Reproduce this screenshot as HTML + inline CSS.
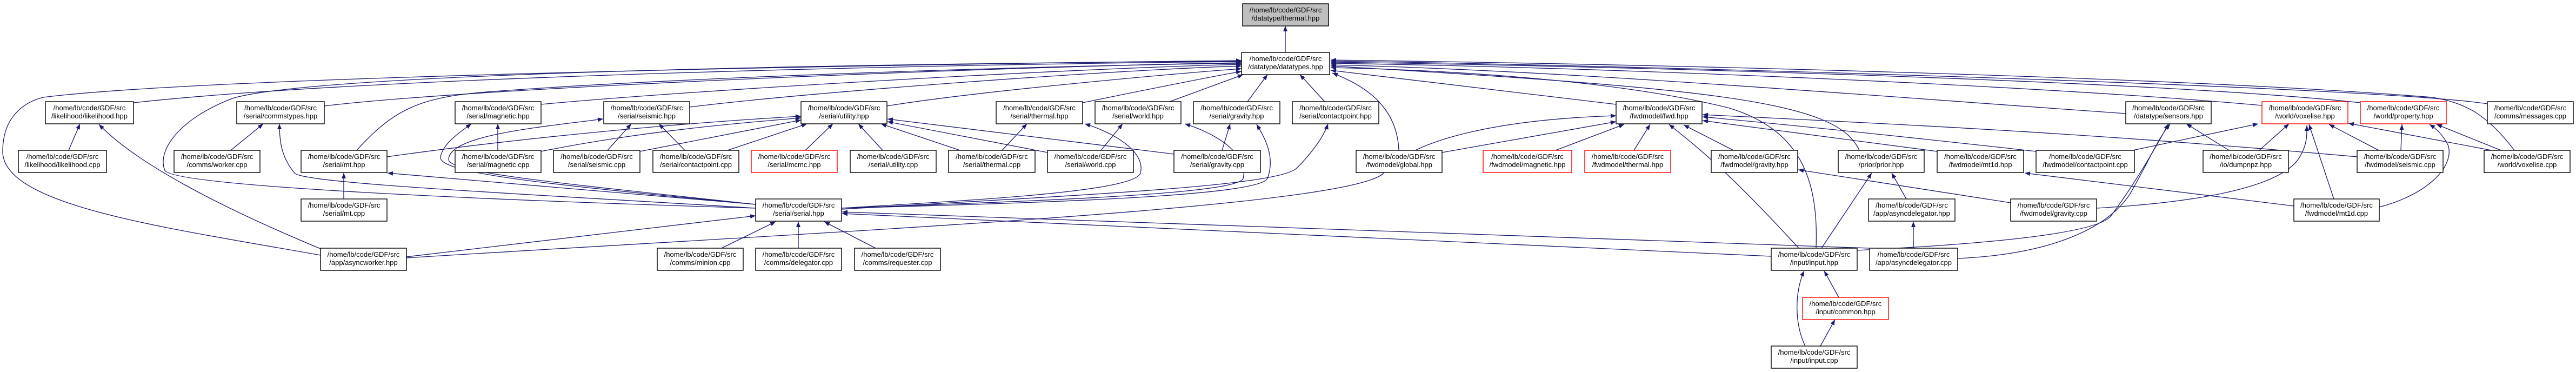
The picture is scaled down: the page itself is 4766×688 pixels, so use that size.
<!DOCTYPE html>
<html><head><meta charset="utf-8">
<style>
html,body{margin:0;padding:0;background:#fff;}
svg{display:block;}
text{font-family:"Liberation Sans",sans-serif;font-size:13px;fill:#000;}
.e{fill:none;stroke:#191970;stroke-width:1.3;marker-end:url(#a);}
.n{fill:#fff;stroke:#000;stroke-width:1.4;}
.r{fill:#fff;stroke:#ff0000;stroke-width:1.4;}
.g{fill:#bfbfbf;stroke:#000;stroke-width:1.4;}
</style></head>
<body>
<svg width="4766" height="688" viewBox="0 0 4766 688" xmlns="http://www.w3.org/2000/svg">
<defs>
<marker id="a" viewBox="0 0 10 8" refX="10" refY="4" markerWidth="11" markerHeight="8" markerUnits="userSpaceOnUse" orient="auto">
<path d="M0,0 L10,4 L0,8 z" fill="#191970"/>
</marker>
</defs>
<g>
<path class="e" d="M2378,97 L2378,48"/>
<path class="e" d="M247,190 C700,140 1800,118 2297,114"/>
<path class="e" d="M600,196 C900,160 1900,122 2297,116"/>
<path class="e" d="M1001,193 C1300,165 2000,126 2297,119"/>
<path class="e" d="M1276,198 C1500,170 2050,130 2297,122"/>
<path class="e" d="M1641,196 C1800,170 2150,138 2297,127"/>
<path class="e" d="M2003,190 C2100,170 2250,140 2297,132"/>
<path class="e" d="M2164,188 L2300,138"/>
<path class="e" d="M2308,188 L2345,138"/>
<path class="e" d="M2451,188 L2405,138"/>
<path class="e" d="M660,278 C730,200 780,180 900,170 C1300,140 2000,120 2297,117"/>
<path class="e" d="M593,472 C300,420 5,380 5,280 C5,220 40,190 80,180 C400,140 1700,118 2297,112"/>
<path class="e" d="M1398,385 C900,370 320,345 305,315 C290,280 330,220 430,182 C600,130 1800,116 2297,113"/>
<path class="e" d="M2588,278 C2585,200 2530,160 2465,135"/>
<path class="e" d="M2990,193 L2462,130"/>
<path class="e" d="M3440,278 C3400,190 3200,165 2462,122"/>
<path class="e" d="M3360,459 C3365,330 3330,240 3200,200 C3000,150 2700,130 2462,125"/>
<path class="e" d="M3933,210 C3500,180 2900,130 2462,120"/>
<path class="e" d="M4185,195 C3800,160 3000,125 2462,117"/>
<path class="e" d="M4367,190 C4000,150 3000,122 2462,115"/>
<path class="e" d="M4602,192 C4400,160 3000,120 2462,113"/>
<path class="e" d="M4652,278 C4600,210 4560,190 4500,180 C4000,140 3000,118 2462,111"/>
<path class="e" d="M127,278 L148,229"/>
<path class="e" d="M593,460 C400,380 250,300 183,230"/>
<path class="e" d="M427,278 L487,229"/>
<path class="e" d="M1398,385 C1000,360 560,340 545,320 C520,290 517,260 517,229"/>
<path class="e" d="M636,368 L636,320"/>
<path class="e" d="M1398,378 L717,320"/>
<path class="e" d="M752,475 L1398,399"/>
<path class="e" d="M752,477 C1500,430 2500,385 2560,320 C2620,250 2800,220 2990,214"/>
<path class="e" d="M1398,378 C1000,340 810,320 815,290 C820,265 850,245 872,229"/>
<path class="e" d="M1398,378 C1050,340 830,320 830,295 C830,250 1000,235 1116,220"/>
<path class="e" d="M921,278 L921,229"/>
<path class="e" d="M1124,278 L1168,229"/>
<path class="e" d="M1267,278 L1219,229"/>
<path class="e" d="M716,290 C1000,250 1300,225 1482,215"/>
<path class="e" d="M1001,280 C1200,240 1400,225 1482,218"/>
<path class="e" d="M1184,280 L1482,222"/>
<path class="e" d="M1346,278 L1493,229"/>
<path class="e" d="M1490,278 L1541,229"/>
<path class="e" d="M1633,278 L1588,229"/>
<path class="e" d="M1776,278 L1630,229"/>
<path class="e" d="M1938,282 L1642,225"/>
<path class="e" d="M2172,285 L1642,220"/>
<path class="e" d="M1854,278 L1900,229"/>
<path class="e" d="M2037,278 L2077,229"/>
<path class="e" d="M2261,278 L2276,229"/>
<path class="e" d="M1557,385 C1800,370 2100,355 2110,320 C2120,280 2060,245 2007,229"/>
<path class="e" d="M1557,385 C1900,372 2290,360 2300,330 C2310,290 2260,250 2192,229"/>
<path class="e" d="M1557,385 C1950,375 2330,362 2345,330 C2360,290 2340,255 2325,230"/>
<path class="e" d="M1557,387 C2000,360 2370,345 2400,310 C2430,280 2450,250 2457,229"/>
<path class="e" d="M1335,459 L1435,410"/>
<path class="e" d="M1477,459 L1477,410"/>
<path class="e" d="M1620,459 L1525,410"/>
<path class="e" d="M3277,474 L1558,395"/>
<path class="e" d="M3459,459 L1558,392"/>
<path class="e" d="M2668,282 L2990,225"/>
<path class="e" d="M2878,278 L3005,230"/>
<path class="e" d="M3023,278 L3053,230"/>
<path class="e" d="M3207,278 L3115,231"/>
<path class="e" d="M3328,459 C3200,320 3150,280 3088,230"/>
<path class="e" d="M3584,280 L3150,223"/>
<path class="e" d="M3767,280 C3500,250 3300,230 3150,216"/>
<path class="e" d="M4361,290 C3800,240 3400,225 3150,212"/>
<path class="e" d="M3370,459 L3463,320"/>
<path class="e" d="M3527,368 L3500,320"/>
<path class="e" d="M3720,375 L3327,314"/>
<path class="e" d="M3540,459 L3540,410"/>
<path class="e" d="M3622,478 C3800,470 3900,420 3940,360 C3975,300 3990,260 4015,229"/>
<path class="e" d="M3436,463 C3700,450 3880,430 3905,400 C3950,340 3990,270 4012,229"/>
<path class="e" d="M3340,640 C3320,600 3320,540 3338,501"/>
<path class="e" d="M3368,640 L3395,591"/>
<path class="e" d="M3402,550 L3375,501"/>
<path class="e" d="M4124,278 L4045,229"/>
<path class="e" d="M4180,278 L4235,229"/>
<path class="e" d="M3946,278 L4178,229"/>
<path class="e" d="M4401,278 L4309,230"/>
<path class="e" d="M4442,278 L4444,230"/>
<path class="e" d="M4620,280 L4345,228"/>
<path class="e" d="M4627,278 L4508,230"/>
<path class="e" d="M4318,368 L4272,230"/>
<path class="e" d="M4402,383 C4490,360 4540,310 4530,270 C4520,250 4510,240 4495,230"/>
<path class="e" d="M4244,381 L3746,320"/>
<path class="e" d="M3879,385 C4050,375 4220,350 4255,290 C4270,265 4268,245 4268,232"/>
</g>
<g text-anchor="middle">
<!-- row0 -->
<rect class="g" x="2299" y="7" width="159" height="41"/><text x="2378.5" y="23">/home/lb/code/GDF/src</text><text x="2378.5" y="38">/datatype/thermal.hpp</text>
<!-- row1 -->
<rect class="n" x="2297" y="97" width="163" height="41"/><text x="2378.5" y="113">/home/lb/code/GDF/src</text><text x="2378.5" y="128">/datatype/datatypes.hpp</text>
<!-- row2 -->
<rect class="n" x="84" y="188" width="163" height="41"/><text x="165.5" y="204">/home/lb/code/GDF/src</text><text x="165.5" y="219">/likelihood/likelihood.hpp</text>
<rect class="n" x="438" y="188" width="162" height="41"/><text x="519" y="204">/home/lb/code/GDF/src</text><text x="519" y="219">/serial/commstypes.hpp</text>
<rect class="n" x="842" y="188" width="159" height="41"/><text x="921.5" y="204">/home/lb/code/GDF/src</text><text x="921.5" y="219">/serial/magnetic.hpp</text>
<rect class="n" x="1117" y="188" width="159" height="41"/><text x="1196.5" y="204">/home/lb/code/GDF/src</text><text x="1196.5" y="219">/serial/seismic.hpp</text>
<rect class="n" x="1482" y="188" width="159" height="41"/><text x="1561.5" y="204">/home/lb/code/GDF/src</text><text x="1561.5" y="219">/serial/utility.hpp</text>
<rect class="n" x="1843" y="188" width="160" height="41"/><text x="1923" y="204">/home/lb/code/GDF/src</text><text x="1923" y="219">/serial/thermal.hpp</text>
<rect class="n" x="2026" y="188" width="159" height="41"/><text x="2105.5" y="204">/home/lb/code/GDF/src</text><text x="2105.5" y="219">/serial/world.hpp</text>
<rect class="n" x="2208" y="188" width="160" height="41"/><text x="2288" y="204">/home/lb/code/GDF/src</text><text x="2288" y="219">/serial/gravity.hpp</text>
<rect class="n" x="2391" y="188" width="160" height="41"/><text x="2471" y="204">/home/lb/code/GDF/src</text><text x="2471" y="219">/serial/contactpoint.hpp</text>
<rect class="n" x="2990" y="188" width="159" height="41"/><text x="3069.5" y="204">/home/lb/code/GDF/src</text><text x="3069.5" y="219">/fwdmodel/fwd.hpp</text>
<rect class="n" x="3933" y="188" width="158" height="41"/><text x="4012" y="204">/home/lb/code/GDF/src</text><text x="4012" y="219">/datatype/sensors.hpp</text>
<rect class="r" x="4185" y="188" width="159" height="41"/><text x="4264.5" y="204">/home/lb/code/GDF/src</text><text x="4264.5" y="219">/world/voxelise.hpp</text>
<rect class="r" x="4367" y="188" width="159" height="41"/><text x="4446.5" y="204">/home/lb/code/GDF/src</text><text x="4446.5" y="219">/world/property.hpp</text>
<rect class="n" x="4602" y="188" width="159" height="41"/><text x="4681.5" y="204">/home/lb/code/GDF/src</text><text x="4681.5" y="219">/comms/messages.cpp</text>
<!-- row3 -->
<rect class="n" x="34" y="278" width="163" height="41"/><text x="115.5" y="294">/home/lb/code/GDF/src</text><text x="115.5" y="309">/likelihood/likelihood.cpp</text>
<rect class="n" x="322" y="278" width="159" height="41"/><text x="401.5" y="294">/home/lb/code/GDF/src</text><text x="401.5" y="309">/comms/worker.cpp</text>
<rect class="n" x="557" y="278" width="159" height="41"/><text x="636.5" y="294">/home/lb/code/GDF/src</text><text x="636.5" y="309">/serial/mt.hpp</text>
<rect class="n" x="842" y="278" width="159" height="41"/><text x="921.5" y="294">/home/lb/code/GDF/src</text><text x="921.5" y="309">/serial/magnetic.cpp</text>
<rect class="n" x="1024" y="278" width="160" height="41"/><text x="1104" y="294">/home/lb/code/GDF/src</text><text x="1104" y="309">/serial/seismic.cpp</text>
<rect class="n" x="1208" y="278" width="159" height="41"/><text x="1287.5" y="294">/home/lb/code/GDF/src</text><text x="1287.5" y="309">/serial/contactpoint.cpp</text>
<rect class="r" x="1390" y="278" width="159" height="41"/><text x="1469.5" y="294">/home/lb/code/GDF/src</text><text x="1469.5" y="309">/serial/mcmc.hpp</text>
<rect class="n" x="1573" y="278" width="159" height="41"/><text x="1652.5" y="294">/home/lb/code/GDF/src</text><text x="1652.5" y="309">/serial/utility.cpp</text>
<rect class="n" x="1755" y="278" width="160" height="41"/><text x="1835" y="294">/home/lb/code/GDF/src</text><text x="1835" y="309">/serial/thermal.cpp</text>
<rect class="n" x="1938" y="278" width="159" height="41"/><text x="2017.5" y="294">/home/lb/code/GDF/src</text><text x="2017.5" y="309">/serial/world.cpp</text>
<rect class="n" x="2172" y="278" width="160" height="41"/><text x="2252" y="294">/home/lb/code/GDF/src</text><text x="2252" y="309">/serial/gravity.cpp</text>
<rect class="n" x="2509" y="278" width="159" height="41"/><text x="2588.5" y="294">/home/lb/code/GDF/src</text><text x="2588.5" y="309">/fwdmodel/global.hpp</text>
<rect class="r" x="2744" y="278" width="164" height="41"/><text x="2826" y="294">/home/lb/code/GDF/src</text><text x="2826" y="309">/fwdmodel/magnetic.hpp</text>
<rect class="r" x="2932" y="278" width="159" height="41"/><text x="3011.5" y="294">/home/lb/code/GDF/src</text><text x="3011.5" y="309">/fwdmodel/thermal.hpp</text>
<rect class="n" x="3166" y="278" width="160" height="41"/><text x="3246" y="294">/home/lb/code/GDF/src</text><text x="3246" y="309">/fwdmodel/gravity.hpp</text>
<rect class="n" x="3401" y="278" width="159" height="41"/><text x="3480.5" y="294">/home/lb/code/GDF/src</text><text x="3480.5" y="309">/prior/prior.hpp</text>
<rect class="n" x="3584" y="278" width="160" height="41"/><text x="3664" y="294">/home/lb/code/GDF/src</text><text x="3664" y="309">/fwdmodel/mt1d.hpp</text>
<rect class="n" x="3767" y="278" width="182" height="41"/><text x="3858" y="294">/home/lb/code/GDF/src</text><text x="3858" y="309">/fwdmodel/contactpoint.cpp</text>
<rect class="n" x="4076" y="278" width="158" height="41"/><text x="4155" y="294">/home/lb/code/GDF/src</text><text x="4155" y="309">/io/dumpnpz.hpp</text>
<rect class="n" x="4361" y="278" width="159" height="41"/><text x="4440.5" y="294">/home/lb/code/GDF/src</text><text x="4440.5" y="309">/fwdmodel/seismic.cpp</text>
<rect class="n" x="4596" y="278" width="159" height="41"/><text x="4675.5" y="294">/home/lb/code/GDF/src</text><text x="4675.5" y="309">/world/voxelise.cpp</text>
<!-- row4 -->
<rect class="n" x="557" y="368" width="159" height="41"/><text x="636.5" y="384">/home/lb/code/GDF/src</text><text x="636.5" y="399">/serial/mt.cpp</text>
<rect class="n" x="1398" y="368" width="159" height="41"/><text x="1477.5" y="384">/home/lb/code/GDF/src</text><text x="1477.5" y="399">/serial/serial.hpp</text>
<rect class="n" x="3457" y="368" width="160" height="41"/><text x="3537" y="384">/home/lb/code/GDF/src</text><text x="3537" y="399">/app/asyncdelegator.hpp</text>
<rect class="n" x="3720" y="368" width="159" height="41"/><text x="3799.5" y="384">/home/lb/code/GDF/src</text><text x="3799.5" y="399">/fwdmodel/gravity.cpp</text>
<rect class="n" x="4244" y="368" width="158" height="41"/><text x="4323" y="384">/home/lb/code/GDF/src</text><text x="4323" y="399">/fwdmodel/mt1d.cpp</text>
<!-- row5 -->
<rect class="n" x="593" y="459" width="159" height="41"/><text x="672.5" y="475">/home/lb/code/GDF/src</text><text x="672.5" y="490">/app/asyncworker.hpp</text>
<rect class="n" x="1216" y="459" width="159" height="41"/><text x="1295.5" y="475">/home/lb/code/GDF/src</text><text x="1295.5" y="490">/comms/minion.cpp</text>
<rect class="n" x="1398" y="459" width="159" height="41"/><text x="1477.5" y="475">/home/lb/code/GDF/src</text><text x="1477.5" y="490">/comms/delegator.cpp</text>
<rect class="n" x="1581" y="459" width="159" height="41"/><text x="1660.5" y="475">/home/lb/code/GDF/src</text><text x="1660.5" y="490">/comms/requester.cpp</text>
<rect class="n" x="3277" y="459" width="159" height="41"/><text x="3356.5" y="475">/home/lb/code/GDF/src</text><text x="3356.5" y="490">/input/input.hpp</text>
<rect class="n" x="3459" y="459" width="163" height="41"/><text x="3540.5" y="475">/home/lb/code/GDF/src</text><text x="3540.5" y="490">/app/asyncdelegator.cpp</text>
<!-- row6 -->
<rect class="r" x="3335" y="550" width="159" height="41"/><text x="3414.5" y="566">/home/lb/code/GDF/src</text><text x="3414.5" y="581">/input/common.hpp</text>
<!-- row7 -->
<rect class="n" x="3277" y="640" width="159" height="41"/><text x="3356.5" y="656">/home/lb/code/GDF/src</text><text x="3356.5" y="671">/input/input.cpp</text>
</g>
</svg>
</body></html>
